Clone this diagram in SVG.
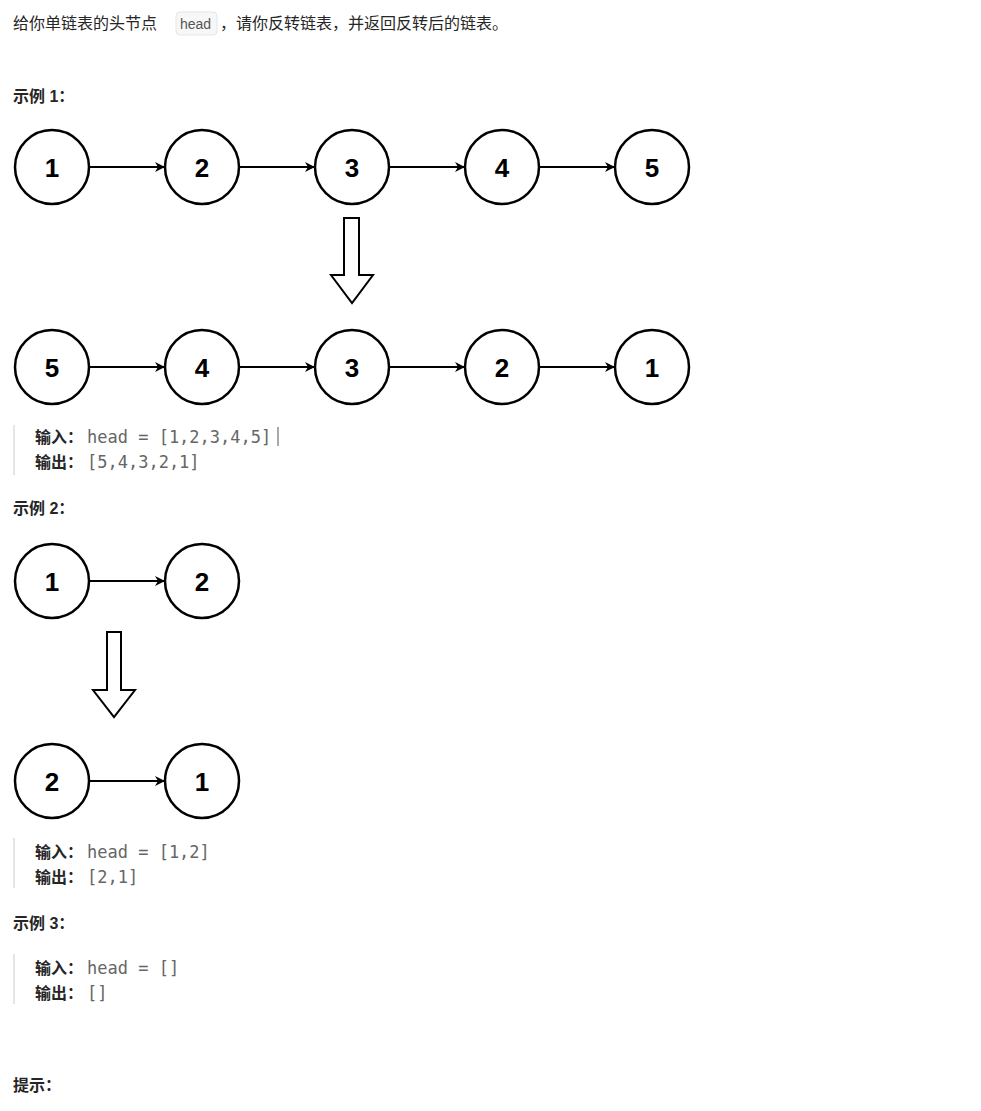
<svg xmlns="http://www.w3.org/2000/svg" width="981" height="1111" viewBox="0 0 981 1111">
<style>
.t{font-family:"Liberation Sans","Noto Sans CJK SC",sans-serif;font-size:16px;fill:#262626}
.b{font-weight:bold}
.c{font-family:"DejaVu Sans Mono","Liberation Mono",monospace;font-size:17px;fill:#666}
.n circle{fill:#fff;stroke:#000;stroke-width:2.5}
.n text{font-family:"Liberation Sans",sans-serif;font-weight:bold;font-size:26px;text-anchor:middle;fill:#000}
.e{stroke:#000;stroke-width:2;fill:none;marker-end:url(#ah)}
.big{fill:#fff;stroke:#000;stroke-width:2}
</style>
<defs><marker id="ah" markerWidth="10" markerHeight="10" refX="9" refY="5" orient="auto" markerUnits="userSpaceOnUse"><path d="M0,0 L10,5 L0,10 L3,5 Z" fill="#000"/></marker></defs>
<rect width="981" height="1111" fill="#fff"/>
<text class="t" x="13" y="29">给你单链表的头节点</text>
<rect x="176" y="12" width="41" height="23" rx="4" fill="#f7f7f7" stroke="#e5e5e5"/>
<text x="180" y="29" style="font-family:'Liberation Sans',sans-serif;font-size:14px;fill:#555">head</text>
<text class="t" x="220" y="29">，请你反转链表，并返回反转后的链表。</text>
<text class="t b" x="13" y="102">示例 1：</text>
<g id="connectors">
<line class="e" x1="90" y1="167" x2="164" y2="167"/>
<line class="e" x1="240" y1="167" x2="314" y2="167"/>
<line class="e" x1="390" y1="167" x2="464" y2="167"/>
<line class="e" x1="540" y1="167" x2="614" y2="167"/>
<line class="e" x1="90" y1="367" x2="164" y2="367"/>
<line class="e" x1="240" y1="367" x2="314" y2="367"/>
<line class="e" x1="390" y1="367" x2="464" y2="367"/>
<line class="e" x1="540" y1="367" x2="614" y2="367"/>
<line class="e" x1="90" y1="581" x2="164" y2="581"/>
<line class="e" x1="90" y1="781" x2="164" y2="781"/>
<path class="big" d="M344,218 H359 V275 H373 L352,303 L331,275 H344 Z"/>
<path class="big" d="M107,632 H121 V690 H135 L114,717 L93,690 H107 Z"/>
</g>
<g id="n1a" class="n"><circle cx="52" cy="167" r="37"/><text x="52" y="177">1</text></g>
<g id="n2a" class="n"><circle cx="202" cy="167" r="37"/><text x="202" y="177">2</text></g>
<g id="n3a" class="n"><circle cx="352" cy="167" r="37"/><text x="352" y="177">3</text></g>
<g id="n4a" class="n"><circle cx="502" cy="167" r="37"/><text x="502" y="177">4</text></g>
<g id="n5a" class="n"><circle cx="652" cy="167" r="37"/><text x="652" y="177">5</text></g>
<g id="n5b" class="n"><circle cx="52" cy="367" r="37"/><text x="52" y="377">5</text></g>
<g id="n4b" class="n"><circle cx="202" cy="367" r="37"/><text x="202" y="377">4</text></g>
<g id="n3b" class="n"><circle cx="352" cy="367" r="37"/><text x="352" y="377">3</text></g>
<g id="n2b" class="n"><circle cx="502" cy="367" r="37"/><text x="502" y="377">2</text></g>
<g id="n1b" class="n"><circle cx="652" cy="367" r="37"/><text x="652" y="377">1</text></g>
<rect x="13" y="425" width="2" height="50" fill="#e5e5e5"/>
<text class="t b" x="35" y="443">输入：</text><text class="c" x="87" y="443">head = [1,2,3,4,5]</text>
<line x1="278" y1="427" x2="278" y2="446" stroke="#555" stroke-width="1"/>
<text class="t b" x="35" y="468">输出：</text><text class="c" x="87" y="468">[5,4,3,2,1]</text>
<text class="t b" x="13" y="514">示例 2：</text>
<g id="n1c" class="n"><circle cx="52" cy="581" r="37"/><text x="52" y="591">1</text></g>
<g id="n2c" class="n"><circle cx="202" cy="581" r="37"/><text x="202" y="591">2</text></g>
<g id="n2d" class="n"><circle cx="52" cy="781" r="37"/><text x="52" y="791">2</text></g>
<g id="n1d" class="n"><circle cx="202" cy="781" r="37"/><text x="202" y="791">1</text></g>
<rect x="13" y="838" width="2" height="50" fill="#e5e5e5"/>
<text class="t b" x="35" y="858">输入：</text><text class="c" x="87" y="858">head = [1,2]</text>
<text class="t b" x="35" y="883">输出：</text><text class="c" x="87" y="883">[2,1]</text>
<text class="t b" x="13" y="929">示例 3：</text>
<rect x="13" y="954" width="2" height="50" fill="#e5e5e5"/>
<text class="t b" x="35" y="974">输入：</text><text class="c" x="87" y="974">head = []</text>
<text class="t b" x="35" y="999">输出：</text><text class="c" x="87" y="999">[]</text>
<text class="t b" x="13" y="1091">提示：</text>
</svg>
